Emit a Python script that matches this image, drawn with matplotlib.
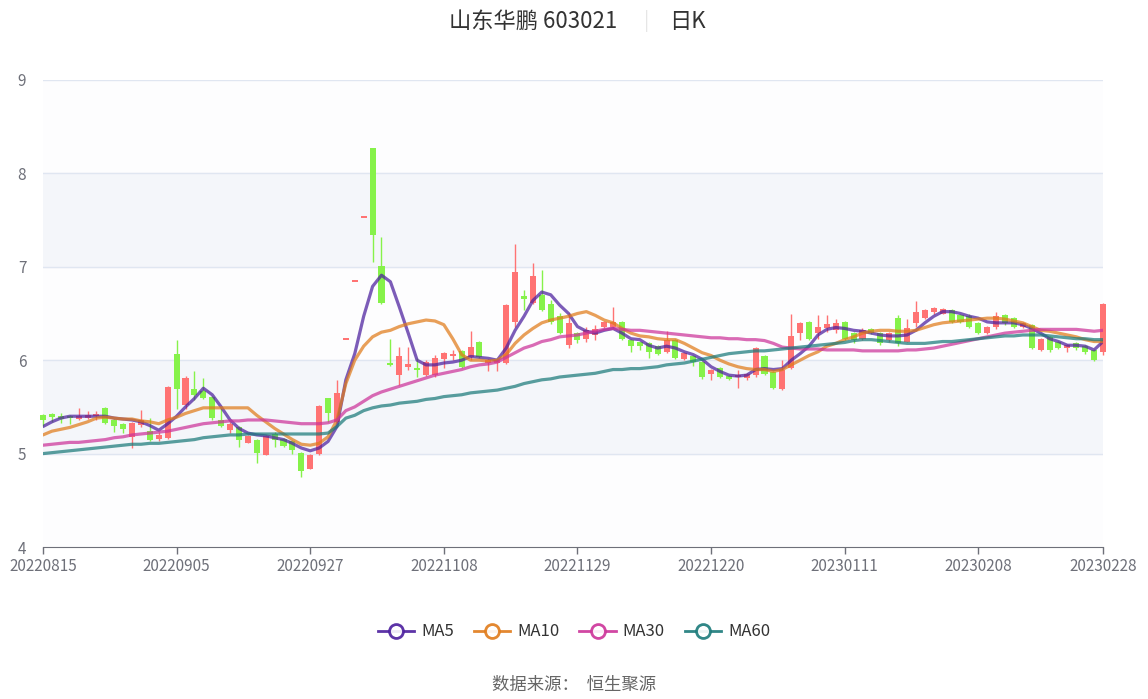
import matplotlib
matplotlib.use("Agg")
import matplotlib.pyplot as plt
from matplotlib.lines import Line2D
import numpy as np

plt.rcParams['font.family'] = ['Noto Sans CJK SC', 'DejaVu Sans']

# daily candles: open, close, low, high (120 trading days)
opens = [5.41, 5.42, 5.40, 5.40, 5.37, 5.38, 5.40, 5.49, 5.36, 5.32,
         5.18, 5.31, 5.24, 5.16, 5.17, 6.07, 5.52, 5.69, 5.67, 5.61,
         5.36, 5.25, 5.28, 5.11, 5.15, 4.99, 5.21, 5.16, 5.13, 5.01,
         4.84, 5.00, 5.59, 5.34, 6.22, 6.84, 7.52, 8.27, 7.01, 5.97,
         5.84, 5.93, 5.90, 5.84, 5.84, 6.01, 6.04, 6.10, 6.03, 6.20,
         5.97, 5.97, 5.97, 6.41, 6.69, 6.61, 6.70, 6.60, 6.47, 6.16,
         6.29, 6.23, 6.27, 6.36, 6.36, 6.41, 6.22, 6.19, 6.18, 6.15,
         6.09, 6.22, 6.01, 6.05, 5.98, 5.85, 5.92, 5.83, 5.82, 5.81,
         5.84, 6.05, 5.87, 5.69, 5.92, 6.29, 6.41, 6.29, 6.35, 6.32,
         6.41, 6.29, 6.23, 6.33, 6.29, 6.22, 6.45, 6.20, 6.40, 6.45,
         6.52, 6.50, 6.54, 6.48, 6.47, 6.40, 6.29, 6.36, 6.48, 6.45,
         6.36, 6.38, 6.11, 6.25, 6.20, 6.13, 6.18, 6.15, 6.11, 6.09]
closes = [5.36, 5.39, 5.37, 5.38, 5.40, 5.41, 5.41, 5.33, 5.30, 5.26,
          5.33, 5.36, 5.15, 5.20, 5.71, 5.69, 5.81, 5.63, 5.60, 5.38,
          5.30, 5.32, 5.15, 5.19, 5.01, 5.19, 5.15, 5.08, 5.04, 4.81,
          4.99, 5.51, 5.43, 5.65, 6.22, 6.84, 7.52, 7.34, 6.61, 5.95,
          6.04, 5.96, 5.89, 5.98, 6.02, 6.08, 6.06, 5.93, 6.14, 6.03,
          6.00, 6.00, 6.59, 6.94, 6.66, 6.90, 6.54, 6.41, 6.29, 6.40,
          6.22, 6.32, 6.33, 6.41, 6.41, 6.23, 6.15, 6.15, 6.09, 6.07,
          6.22, 6.02, 6.08, 5.98, 5.82, 5.90, 5.82, 5.80, 5.84, 5.85,
          6.13, 5.85, 5.70, 5.90, 6.26, 6.40, 6.23, 6.36, 6.39, 6.40,
          6.23, 6.22, 6.32, 6.29, 6.18, 6.29, 6.18, 6.34, 6.52, 6.54,
          6.56, 6.55, 6.41, 6.41, 6.36, 6.29, 6.36, 6.47, 6.40, 6.36,
          6.40, 6.13, 6.23, 6.11, 6.13, 6.16, 6.13, 6.09, 6.00, 6.60]
lows = [5.30, 5.34, 5.33, 5.32, 5.36, 5.37, 5.36, 5.32, 5.23, 5.22,
        5.06, 5.28, 5.14, 5.13, 5.16, 5.48, 5.48, 5.57, 5.58, 5.36,
        5.29, 5.22, 5.07, 5.11, 4.90, 4.98, 5.07, 5.07, 5.00, 4.75,
        4.83, 4.99, 5.34, 5.33, 6.22, 6.84, 7.52, 7.05, 6.60, 5.94,
        5.73, 5.90, 5.82, 5.83, 5.82, 5.92, 6.00, 5.92, 6.00, 6.02,
        5.88, 5.88, 5.96, 6.36, 6.54, 6.60, 6.53, 6.39, 6.28, 6.13,
        6.18, 6.20, 6.22, 6.35, 6.35, 6.22, 6.09, 6.11, 6.02, 6.06,
        6.08, 6.01, 6.00, 5.94, 5.80, 5.79, 5.81, 5.79, 5.70, 5.79,
        5.82, 5.84, 5.69, 5.68, 5.91, 6.22, 6.22, 6.23, 6.30, 6.29,
        6.22, 6.18, 6.22, 6.28, 6.16, 6.19, 6.15, 6.19, 6.36, 6.44,
        6.50, 6.49, 6.40, 6.40, 6.35, 6.28, 6.28, 6.33, 6.38, 6.35,
        6.35, 6.12, 6.10, 6.09, 6.12, 6.09, 6.11, 6.07, 5.99, 6.06]
highs = [5.42, 5.43, 5.44, 5.41, 5.49, 5.46, 5.46, 5.50, 5.37, 5.33,
         5.34, 5.47, 5.38, 5.23, 5.72, 6.22, 5.83, 5.88, 5.81, 5.62,
         5.49, 5.34, 5.30, 5.20, 5.16, 5.20, 5.23, 5.17, 5.15, 5.02,
         5.00, 5.52, 5.60, 5.79, 6.22, 6.84, 7.52, 8.27, 7.32, 6.23,
         6.14, 6.14, 6.02, 6.00, 6.06, 6.09, 6.11, 6.11, 6.31, 6.21,
         6.01, 6.01, 6.60, 7.24, 6.75, 7.04, 6.97, 6.64, 6.51, 6.51,
         6.30, 6.36, 6.38, 6.42, 6.57, 6.42, 6.23, 6.20, 6.19, 6.16,
         6.31, 6.23, 6.09, 6.06, 5.99, 5.91, 5.93, 5.84, 5.90, 5.86,
         6.14, 6.06, 5.88, 6.00, 6.50, 6.41, 6.42, 6.48, 6.48, 6.44,
         6.42, 6.30, 6.34, 6.34, 6.30, 6.30, 6.48, 6.44, 6.63, 6.55,
         6.57, 6.56, 6.55, 6.49, 6.49, 6.41, 6.37, 6.52, 6.50, 6.46,
         6.41, 6.39, 6.24, 6.26, 6.21, 6.17, 6.19, 6.16, 6.12, 6.61]

ma5 = [5.29, 5.34, 5.38, 5.40, 5.40, 5.40, 5.40, 5.40, 5.38, 5.37,
       5.36, 5.34, 5.30, 5.25, 5.32, 5.40, 5.50, 5.59, 5.70, 5.63,
       5.50, 5.36, 5.27, 5.22, 5.20, 5.19, 5.17, 5.15, 5.11, 5.06,
       5.03, 5.06, 5.13, 5.29, 5.79, 6.07, 6.47, 6.79, 6.91, 6.84,
       6.57, 6.29, 6.00, 5.95, 5.95, 5.97, 5.98, 6.00, 6.04, 6.03,
       6.02, 6.00, 6.13, 6.32, 6.47, 6.64, 6.73, 6.70, 6.59, 6.50,
       6.36, 6.31, 6.29, 6.32, 6.34, 6.29, 6.23, 6.22, 6.16, 6.13,
       6.15, 6.13, 6.09, 6.06, 6.01, 5.93, 5.88, 5.84, 5.83, 5.84,
       5.90, 5.91, 5.90, 5.91, 6.00, 6.07, 6.15, 6.27, 6.33, 6.35,
       6.34, 6.32, 6.31, 6.29, 6.27, 6.26, 6.26, 6.27, 6.32, 6.40,
       6.47, 6.52, 6.52, 6.50, 6.47, 6.45, 6.41, 6.40, 6.40, 6.40,
       6.38, 6.34, 6.29, 6.23, 6.20, 6.16, 6.16, 6.15, 6.11, 6.20]
ma10 = [5.20, 5.24, 5.26, 5.28, 5.31, 5.34, 5.38, 5.39, 5.38, 5.37,
        5.37, 5.35, 5.34, 5.32, 5.36, 5.39, 5.43, 5.46, 5.49, 5.49,
        5.49, 5.49, 5.49, 5.49, 5.41, 5.34, 5.27, 5.21, 5.15, 5.10,
        5.09, 5.11, 5.18, 5.36, 5.75, 6.00, 6.15, 6.25, 6.30, 6.32,
        6.36, 6.39, 6.41, 6.43, 6.42, 6.38, 6.23, 6.06, 6.00, 6.00,
        5.99, 6.00, 6.06, 6.18, 6.27, 6.34, 6.40, 6.43, 6.45, 6.47,
        6.50, 6.52, 6.48, 6.43, 6.40, 6.34, 6.29, 6.26, 6.25, 6.23,
        6.22, 6.22, 6.18, 6.13, 6.08, 6.05, 6.00, 5.96, 5.93, 5.91,
        5.90, 5.90, 5.88, 5.90, 5.95, 6.00, 6.05, 6.09, 6.15, 6.18,
        6.22, 6.25, 6.29, 6.31, 6.32, 6.32, 6.31, 6.31, 6.32, 6.35,
        6.38, 6.40, 6.41, 6.42, 6.43, 6.44, 6.45, 6.45, 6.44, 6.42,
        6.40, 6.36, 6.32, 6.31, 6.29, 6.27, 6.25, 6.22, 6.20, 6.20]
ma30 = [5.09, 5.10, 5.11, 5.12, 5.12, 5.13, 5.14, 5.15, 5.17, 5.18,
        5.20, 5.21, 5.22, 5.23, 5.24, 5.26, 5.28, 5.30, 5.32, 5.33,
        5.34, 5.35, 5.35, 5.36, 5.36, 5.36, 5.35, 5.34, 5.33, 5.32,
        5.32, 5.32, 5.33, 5.36, 5.46, 5.50, 5.56, 5.62, 5.66, 5.69,
        5.72, 5.75, 5.78, 5.81, 5.84, 5.86, 5.88, 5.90, 5.93, 5.95,
        5.96, 5.98, 6.03, 6.08, 6.13, 6.16, 6.20, 6.22, 6.25, 6.26,
        6.27, 6.29, 6.31, 6.33, 6.34, 6.33, 6.32, 6.32, 6.31, 6.30,
        6.29, 6.28, 6.27, 6.26, 6.25, 6.24, 6.24, 6.23, 6.23, 6.22,
        6.22, 6.21, 6.18, 6.14, 6.13, 6.12, 6.12, 6.12, 6.11, 6.11,
        6.11, 6.11, 6.10, 6.10, 6.10, 6.10, 6.10, 6.11, 6.11, 6.12,
        6.13, 6.15, 6.17, 6.19, 6.21, 6.23, 6.25, 6.27, 6.29, 6.30,
        6.31, 6.32, 6.33, 6.33, 6.33, 6.33, 6.33, 6.32, 6.31, 6.32]
ma60 = [5.00, 5.01, 5.02, 5.03, 5.04, 5.05, 5.06, 5.07, 5.08, 5.09,
        5.10, 5.10, 5.11, 5.11, 5.12, 5.13, 5.14, 5.15, 5.17, 5.18,
        5.19, 5.20, 5.20, 5.21, 5.21, 5.21, 5.21, 5.21, 5.21, 5.21,
        5.21, 5.21, 5.22, 5.29, 5.38, 5.41, 5.46, 5.49, 5.51, 5.52,
        5.54, 5.55, 5.56, 5.58, 5.59, 5.61, 5.62, 5.63, 5.65, 5.66,
        5.67, 5.68, 5.70, 5.72, 5.75, 5.77, 5.79, 5.80, 5.82, 5.83,
        5.84, 5.85, 5.86, 5.88, 5.90, 5.90, 5.91, 5.91, 5.92, 5.93,
        5.95, 5.96, 5.97, 5.99, 6.01, 6.03, 6.05, 6.07, 6.08, 6.09,
        6.10, 6.10, 6.11, 6.12, 6.13, 6.14, 6.15, 6.16, 6.17, 6.18,
        6.19, 6.21, 6.22, 6.22, 6.21, 6.20, 6.19, 6.18, 6.18, 6.18,
        6.19, 6.20, 6.20, 6.21, 6.22, 6.23, 6.24, 6.25, 6.26, 6.26,
        6.27, 6.27, 6.27, 6.26, 6.25, 6.24, 6.23, 6.23, 6.22, 6.22]

tick_pos = [0, 15, 30, 45, 60, 75, 90, 105, 119]
tick_labels = ['20220815', '20220905', '20220927', '20221108', '20221129',
               '20221220', '20230111', '20230208', '20230228']

ma_names = ['MA5', 'MA10', 'MA30', 'MA60']
ma_colors = ['#4b1e9e', '#e07b1a', '#cc3399', '#1a7a7a']

up_color = '#ff7373'
down_color = '#86f24a'

fig = plt.figure(figsize=(11.48, 6.99), dpi=100)
ax = fig.add_axes([43 / 1148, 1 - 547 / 699, 1060 / 1148, 467 / 699])

x = np.arange(len(opens))
o = np.array(opens)
c = np.array(closes)
colors = [up_color if cc >= oo else down_color for oo, cc in zip(o, c)]

# background bands and grid
ax.set_facecolor('#fdfdfe')
for lo in (5, 7):
    ax.axhspan(lo, lo + 1, color='#f4f6fa', zorder=0)
for v in range(5, 10):
    ax.axhline(v, color='#e0e6f1', lw=1, zorder=1)

# candles (flat limit-up days get a small dash)
ax.vlines(x, lows, highs, colors=colors, lw=1, zorder=3, clip_on=False)
heights = np.maximum(np.abs(c - o), 0.022)
ax.bar(x, heights, bottom=np.minimum(o, c), width=0.68, color=colors,
       zorder=3, clip_on=False)

for vals, col in zip([ma5, ma10, ma30, ma60], ma_colors):
    ax.plot(x, vals, color=col, lw=2.3, alpha=0.72, zorder=4,
            solid_capstyle='round', solid_joinstyle='round')

ax.set_xlim(0, len(opens) - 1)
ax.set_ylim(4, 9)
ax.set_yticks(range(4, 10))
ax.set_xticks(tick_pos)
ax.set_xticklabels(tick_labels)
ax.tick_params(axis='y', length=0, pad=12, labelsize=11, labelcolor='#6e7079')
ax.tick_params(axis='x', length=5, width=1, color='#6e7079', pad=3,
               labelsize=11, labelcolor='#6e7079')
for s in ('top', 'right', 'left'):
    ax.spines[s].set_visible(False)
ax.spines['bottom'].set_color('#6e7079')

# title
fig.text(533 / 1148, 1 - 21 / 699, '山东华鹏 603021', ha='center', va='center',
         fontsize=16, color='#333333')
fig.text(647 / 1148, 1 - 21 / 699, '|', ha='center', va='center',
         fontsize=14, color='#e6e6e6')
fig.text(687 / 1148, 1 - 21 / 699, '日K', ha='center', va='center',
         fontsize=16, color='#333333')

# legend
handles = [Line2D([], [], color=col, lw=2, alpha=0.9, marker='o',
                  markerfacecolor='white', markeredgecolor=col,
                  markeredgewidth=2, markersize=10) for col in ma_colors]
fig.legend(handles, ma_names, loc='center', bbox_to_anchor=(0.5, 1 - 632 / 699),
           ncol=4, frameon=False, fontsize=12, handlelength=2.2,
           handletextpad=0.4, columnspacing=1.2, labelcolor='#333333')

fig.text(0.5, 1 - 685 / 699, '数据来源：  恒生聚源', ha='center', va='center',
         fontsize=12.5, color='#666666')

fig.savefig('out.png', dpi=100, facecolor='white')
